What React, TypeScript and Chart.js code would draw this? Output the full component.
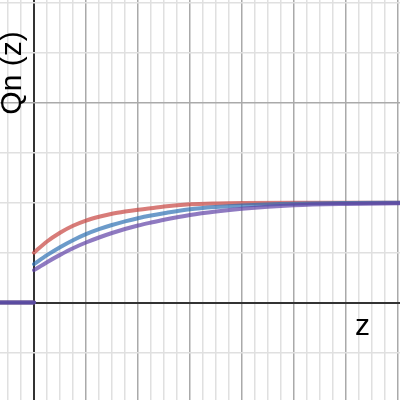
import { useEffect, useRef } from 'react';
import { Chart, registerables } from 'chart.js';
Chart.register(...registerables);

// view window (in graph units)
const zMin = -1.3077;
const zMax = 14.077;
const qMin = -0.975;
const qMax = 3.03;

// z < 0 : all three curves sit on Q = 0
const zNeg = [-1.5, 0];

// z >= 0 sample points
const zPos = [0, 0.5, 1, 1.5, 2, 2.5, 3, 3.5, 4, 4.5, 5, 6, 7, 8, 10, 12, 14.2];
const redValues = [0.5, 0.612, 0.7, 0.77, 0.822, 0.86, 0.89, 0.912, 0.93, 0.945, 0.962, 0.984, 0.993, 0.997, 1.0, 1.0, 1.0];
const blueValues = [0.385, 0.475, 0.555, 0.625, 0.685, 0.735, 0.777, 0.813, 0.845, 0.872, 0.895, 0.935, 0.958, 0.973, 0.99, 0.997, 1.0];
const purpleValues = [0.325, 0.405, 0.478, 0.545, 0.602, 0.652, 0.697, 0.737, 0.772, 0.802, 0.83, 0.878, 0.913, 0.94, 0.974, 0.988, 0.995];

const yTitle = 'Qn (z)';
const xTitle = 'z';

function buildSeries(values: number[]) {
  return [
    ...zNeg.map(z => ({ x: z, y: 0 })),
    { x: 0, y: null },
    ...zPos.map((z, i) => ({ x: z, y: values[i] })),
  ];
}

const isMult = (v: number, m: number) => Math.abs(v / m - Math.round(v / m)) < 1e-6;

function gridColor(ctx: any) {
  const v = ctx.tick ? ctx.tick.value : 1;
  if (Math.abs(v) < 1e-6) return '#333333';
  if (isMult(v, 2)) return '#aaaaaa';
  return '#e0e0e0';
}

function gridWidth(ctx: any) {
  const v = ctx.tick ? ctx.tick.value : 1;
  if (Math.abs(v) < 1e-6) return 2;
  return 1.5;
}

const labelPlugin = {
  id: 'axisLabels',
  afterDraw(chart: Chart) {
    const c = chart.ctx;
    c.save();
    c.fillStyle = '#000';
    c.font = '30px "Liberation Sans", Arial, sans-serif';
    c.textBaseline = 'alphabetic';
    c.textAlign = 'left';
    c.fillText(xTitle, 355, 335);
    c.translate(21, 73);
    c.rotate(-Math.PI / 2);
    c.textAlign = 'center';
    c.fillText(yTitle, 0, 0);
    c.restore();
  },
};

export default function App() {
  const canvasRef = useRef<HTMLCanvasElement>(null);
  const chartRef = useRef<Chart | null>(null);

  useEffect(() => {
    if (!canvasRef.current) return;
    if (chartRef.current) chartRef.current.destroy();

    const line = (color: string, values: number[]) => ({
      data: buildSeries(values),
      borderColor: color,
      borderWidth: 4,
      borderCapStyle: 'round' as const,
      borderJoinStyle: 'round' as const,
      pointRadius: 0,
      fill: false,
      spanGaps: false,
      cubicInterpolationMode: 'monotone' as const,
    });

    chartRef.current = new Chart(canvasRef.current, {
      type: 'line',
      data: {
        datasets: [
          // first dataset is drawn on top
          line('rgba(96,66,166,0.7)', purpleValues),
          line('rgba(45,112,179,0.7)', blueValues),
          line('rgba(199,68,64,0.7)', redValues),
        ],
      },
      options: {
        responsive: false,
        animation: false,
        layout: { padding: 0 },
        plugins: { legend: { display: false }, tooltip: { enabled: false } },
        scales: {
          x: {
            type: 'linear',
            min: zMin,
            max: zMax,
            border: { display: false },
            grid: { color: gridColor, lineWidth: gridWidth, drawTicks: false },
            ticks: { display: false, stepSize: 0.5, includeBounds: false },
          },
          y: {
            type: 'linear',
            min: qMin,
            max: qMax,
            border: { display: false },
            grid: { color: gridColor, lineWidth: gridWidth, drawTicks: false },
            ticks: { display: false, stepSize: 0.5, includeBounds: false },
          },
        },
      },
      plugins: [labelPlugin],
    });

    return () => { chartRef.current?.destroy(); };
  }, []);

  return (
    <div style={{ position: 'absolute', left: 0, top: 0, width: 400, height: 400, background: '#fff' }}>
      <canvas ref={canvasRef} width={400} height={400} role="img" aria-label="Qn (z) curves" />
    </div>
  );
}
